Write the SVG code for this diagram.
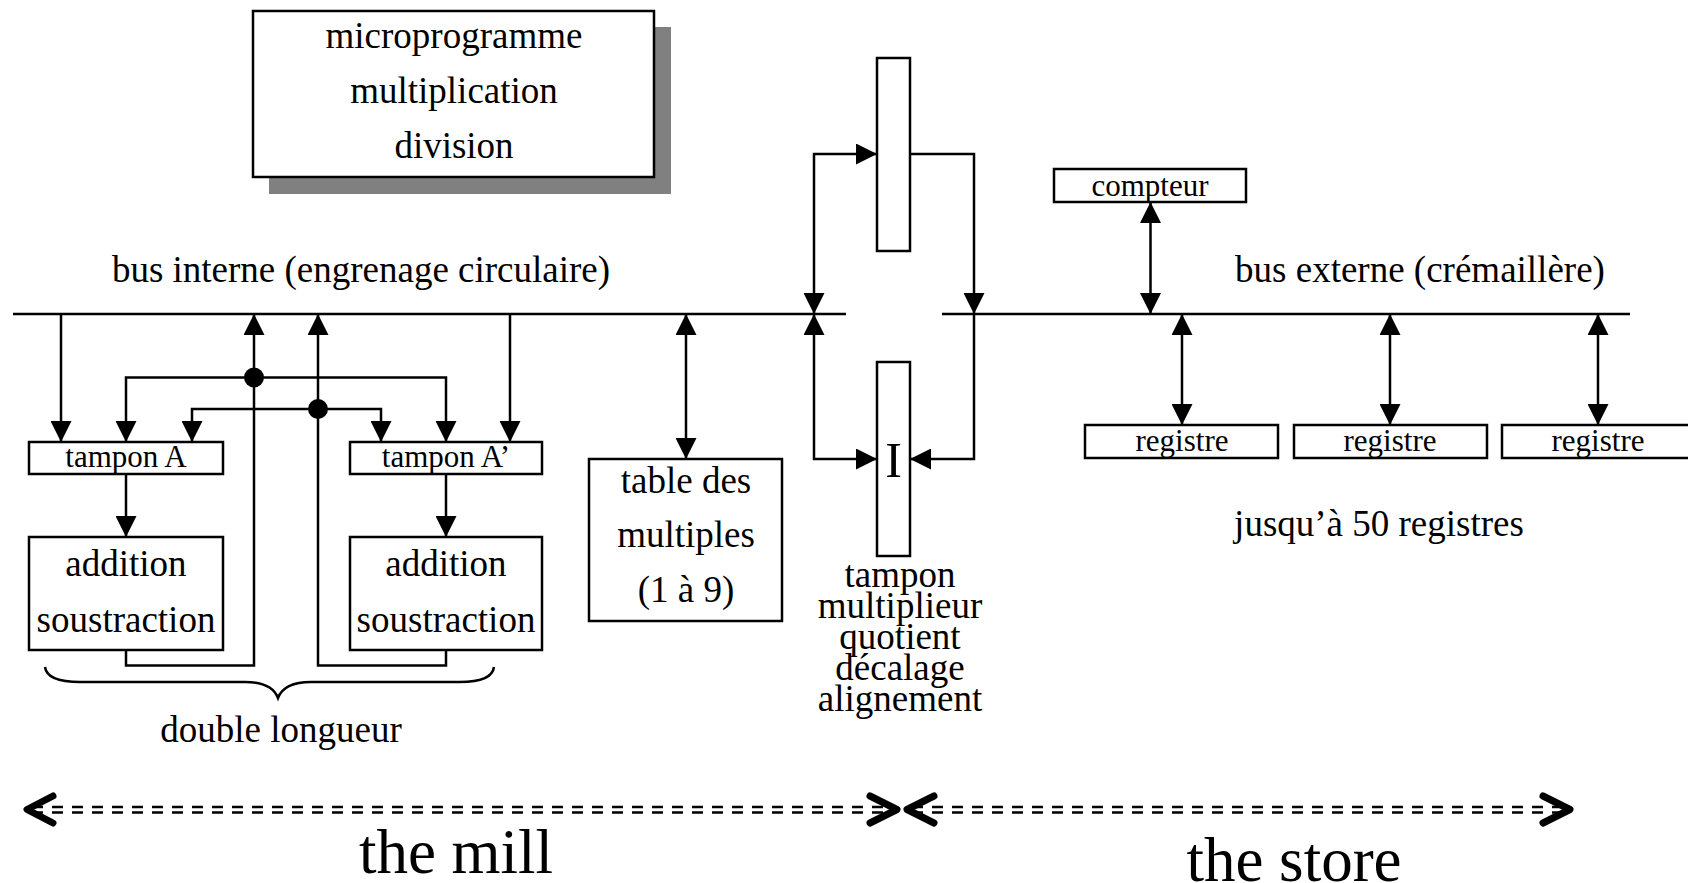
<svg xmlns="http://www.w3.org/2000/svg" width="1688" height="883" viewBox="0 0 1688 883">
  <style>
    text { font-family: "Liberation Serif", "Times New Roman", serif; fill: #000; text-anchor: middle; }
    .t37 { font-size: 37px; }
    .t32 { font-size: 31px; }
    .big { font-size: 63px; }
    .box { fill: #fff; stroke: #000; stroke-width: 2.5; }
    .wire { fill: none; stroke: #000; stroke-width: 2.5; }
    .arr { marker-end: url(#head); }
    .both { marker-start: url(#head); marker-end: url(#head); }
    .chev { fill: none; stroke: #000; stroke-width: 7; stroke-linecap: round; stroke-linejoin: round; }
    .dash { fill: none; stroke: #000; stroke-width: 2.5; stroke-dasharray: 11 9; }
  </style>
  <defs>
    <marker id="head" viewBox="0 0 21 21" refX="21" refY="10.5" markerWidth="21" markerHeight="21" markerUnits="userSpaceOnUse" orient="auto-start-reverse">
      <path d="M0,0 L21,10.5 L0,21 z" fill="#000"/>
    </marker>
  </defs>
  <rect width="1688" height="883" fill="#fff"/>

  <!-- microprogram unit with drop shadow -->
  <g id="microprogramme">
    <rect x="269" y="27" width="402" height="167" fill="#808080"/>
    <rect class="box" x="253" y="11" width="401" height="166"/>
    <text class="t37" x="454" y="48">microprogramme</text>
    <text class="t37" x="454" y="103">multiplication</text>
    <text class="t37" x="454" y="158">division</text>
  </g>

  <!-- buses -->
  <g id="bus-interne">
    <line class="wire" x1="13" y1="314" x2="846" y2="314"/>
    <text class="t37" x="361" y="282">bus interne (engrenage circulaire)</text>
  </g>
  <g id="bus-externe">
    <line class="wire" x1="942" y1="314" x2="1630" y2="314"/>
    <text class="t37" x="1420" y="282">bus externe (crémaillère)</text>
  </g>

  <!-- connectors -->
  <g id="connectors">
    <path class="wire arr" d="M61,314 V442"/>
    <path class="wire arr" d="M510,314 V442"/>
    <path class="wire arr" d="M254,377.5 H126 V442"/>
    <path class="wire arr" d="M254,377.5 H446 V442"/>
    <path class="wire arr" d="M318,409 H192 V442"/>
    <path class="wire arr" d="M318,409 H381 V442"/>
    <path class="wire arr" d="M126,474 V537"/>
    <path class="wire arr" d="M446,474 V537"/>
    <path class="wire arr" d="M126,650 V665.5 H254 V314"/>
    <path class="wire arr" d="M446,650 V665.5 H318 V314"/>
    <circle cx="254" cy="377.5" r="10" fill="#000"/>
    <circle cx="318" cy="409" r="10" fill="#000"/>

    <path class="wire both" d="M686,314 V459"/>

    <path class="wire both" d="M877,154 H814 V314"/>
    <path class="wire both" d="M877,459 H814 V314"/>
    <path class="wire arr" d="M910,154 H974 V314"/>
    <path class="wire arr" d="M974,314 V459 H910"/>

    <path class="wire both" d="M1150.5,202 V314"/>
    <path class="wire both" d="M1182,314 V425"/>
    <path class="wire both" d="M1390,314 V425"/>
    <path class="wire both" d="M1598,314 V425"/>
  </g>

  <!-- mill: adders -->
  <g id="tampon-a">
    <rect class="box" x="29" y="442" width="194" height="32"/>
    <text class="t32" x="126" y="467">tampon A</text>
  </g>
  <g id="tampon-a-prime">
    <rect class="box" x="350" y="442" width="192" height="32"/>
    <text class="t32" x="446" y="467">tampon A’</text>
  </g>
  <g id="addition-1">
    <rect class="box" x="29" y="537" width="194" height="113"/>
    <text class="t37" x="126" y="576">addition</text>
    <text class="t37" x="126" y="632">soustraction</text>
  </g>
  <g id="addition-2">
    <rect class="box" x="350" y="537" width="192" height="113"/>
    <text class="t37" x="446" y="576">addition</text>
    <text class="t37" x="446" y="632">soustraction</text>
  </g>
  <g id="double-longueur">
    <path class="wire" d="M45,667 Q47,682 80,682 L245,682 Q272,682 278,698 Q284,682 311,682 L460,682 Q492,682 494,667"/>
    <text class="t37" x="281" y="742">double longueur</text>
  </g>

  <g id="table-multiples">
    <rect class="box" x="589" y="459" width="193" height="162"/>
    <text class="t37" x="686" y="493">table des</text>
    <text class="t37" x="686" y="547">multiples</text>
    <text class="t37" x="686" y="602">(1 à 9)</text>
  </g>

  <g id="tampon-haut">
    <rect class="box" x="877" y="58" width="33" height="193"/>
  </g>
  <g id="tampon-multiplieur">
    <rect class="box" x="877" y="362" width="33" height="194"/>
    <text x="893.5" y="477" style="font-size:50px">I</text>
    <text class="t37" x="900" y="587">tampon</text>
    <text class="t37" x="900" y="618">multiplieur</text>
    <text class="t37" x="900" y="649">quotient</text>
    <text class="t37" x="900" y="680">décalage</text>
    <text class="t37" x="900" y="711">alignement</text>
  </g>

  <!-- store -->
  <g id="compteur">
    <rect class="box" x="1054" y="169" width="192" height="33"/>
    <text class="t32" x="1150" y="196">compteur</text>
  </g>
  <g id="registre-1">
    <rect class="box" x="1085" y="425" width="193" height="33"/>
    <text class="t32" x="1182" y="451">registre</text>
  </g>
  <g id="registre-2">
    <rect class="box" x="1294" y="425" width="193" height="33"/>
    <text class="t32" x="1390" y="451">registre</text>
  </g>
  <g id="registre-3">
    <rect class="box" x="1502" y="425" width="193" height="33"/>
    <text class="t32" x="1598" y="451">registre</text>
  </g>
  <text class="t37" x="1379" y="536">jusqu’à 50 registres</text>

  <!-- extent markers -->
  <g id="the-mill">
    <path class="dash" d="M32,807 H892"/>
    <path class="dash" d="M32,812.5 H892"/>
    <path class="chev" d="M53,796 L27,809.5 L53,823"/>
    <path class="chev" d="M870,796 L897,809.5 L870,823"/>
    <text class="big" x="456" y="873">the mill</text>
  </g>
  <g id="the-store">
    <path class="dash" d="M912,807 H1565"/>
    <path class="dash" d="M912,812.5 H1565"/>
    <path class="chev" d="M934,796 L907,809.5 L934,823"/>
    <path class="chev" d="M1543,796 L1570,809.5 L1543,823"/>
    <text class="big" x="1294" y="881">the store</text>
  </g>
</svg>
